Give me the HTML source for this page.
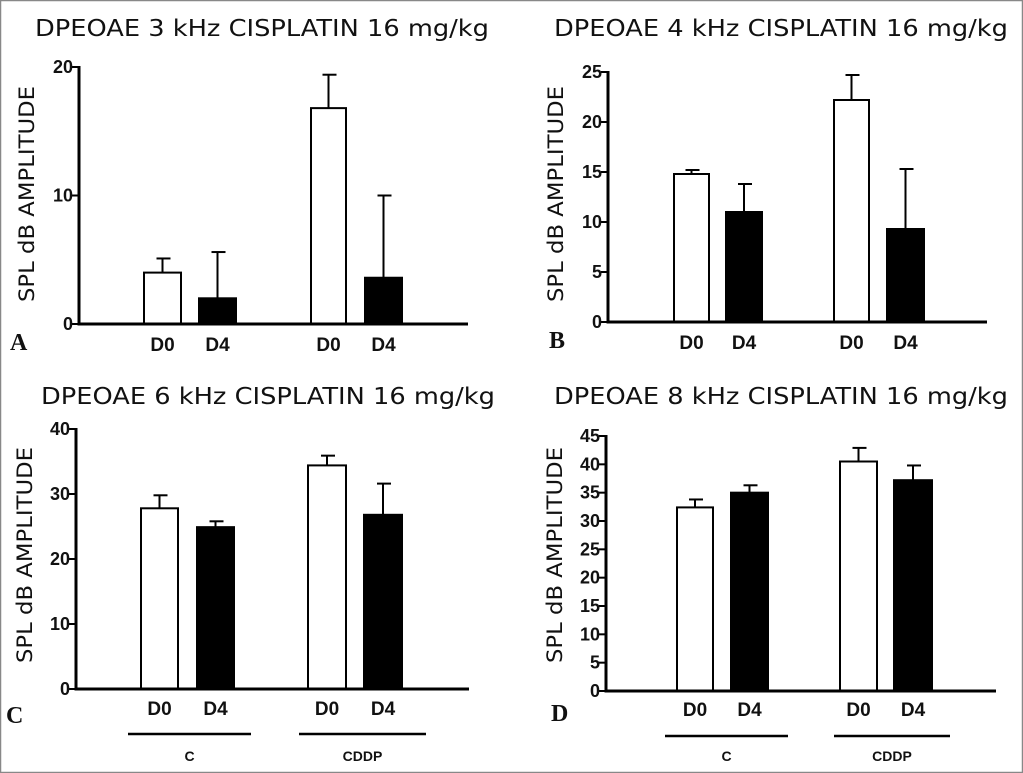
<!DOCTYPE html>
<html><head><meta charset="utf-8"><style>
html,body{margin:0;padding:0;background:#fff}
svg{display:block}
.t{font-family:"DejaVu Sans",sans-serif;font-size:23px;fill:#111}
.tick{font-family:"Liberation Sans",sans-serif;font-weight:bold;font-size:18px;fill:#111}
.cat{font-family:"Liberation Sans",sans-serif;font-weight:bold;font-size:19px;fill:#111}
.yt{font-family:"DejaVu Sans",sans-serif;font-size:21px;fill:#111}
.pl{font-family:"Liberation Serif",serif;font-weight:bold;font-size:24px;fill:#111}
.gl{font-family:"Liberation Sans",sans-serif;font-weight:bold;font-size:14px;fill:#111}
</style></head><body>
<svg id="fig" width="1023" height="773" viewBox="0 0 1023 773">
<rect x="0.5" y="0.5" width="1022" height="772" fill="#fff" stroke="#888" stroke-width="1.5"/>
</svg>
<script>
// Panel data
const categories = ["D0","D4","D0","D4"];
const groups = ["C","CDDP"];
const valuesA = [4.0, 2.0, 16.8, 3.6];
const errorsA = [1.1, 3.6, 2.6, 6.4];
const ticksA = [0, 10, 20];
const valuesB = [14.8, 11.0, 22.2, 9.3];
const errorsB = [0.4, 2.8, 2.5, 6.0];
const ticksB = [0, 5, 10, 15, 20, 25];
const valuesC = [27.8, 24.9, 34.4, 26.8];
const errorsC = [2.0, 0.9, 1.5, 4.8];
const ticksC = [0, 10, 20, 30, 40];
const valuesD = [32.4, 35.0, 40.5, 37.2];
const errorsD = [1.4, 1.3, 2.4, 2.6];
const ticksD = [0, 5, 10, 15, 20, 25, 30, 35, 40, 45];

const NS = "http://www.w3.org/2000/svg";
const svg = document.getElementById("fig");
function mk(tag, attrs, parent, text){
  const e = document.createElementNS(NS, tag);
  for (const k in attrs) e.setAttribute(k, attrs[k]);
  if (text !== undefined) e.textContent = text;
  (parent||svg).appendChild(e);
  return e;
}
const panels = [
 {id:"a", letter:"A", title:"DPEOAE 3 kHz CISPLATIN 16 mg/kg", tx:35, ty:36, ax:79, y0:324, yTop:67, xEnd:468,
  bars:[[144,181],[199,236],[311,346],[365,402]], vals:valuesA, errs:errorsA, ticks:ticksA, ytx:34, ytc:194, lx:10, ly:350, groupsLine:false, catY:351},
 {id:"b", letter:"B", title:"DPEOAE 4 kHz CISPLATIN 16 mg/kg", tx:554, ty:36, ax:608, y0:322, yTop:72, xEnd:987,
  bars:[[674,709],[726,762],[834,869],[887,924]], vals:valuesB, errs:errorsB, ticks:ticksB, ytx:563, ytc:194, lx:549, ly:348, groupsLine:false, catY:349},
 {id:"c", letter:"C", title:"DPEOAE 6 kHz CISPLATIN 16 mg/kg", tx:41, ty:404, ax:76, y0:689, yTop:429, xEnd:469,
  bars:[[141,178],[197,234],[308,346],[364,402]], vals:valuesC, errs:errorsC, ticks:ticksC, ytx:32, ytc:555, lx:6, ly:723, groupsLine:true, catY:715,
  gl:[[128,251],[299,426]], gly:734, gty:761},
 {id:"d", letter:"D", title:"DPEOAE 8 kHz CISPLATIN 16 mg/kg", tx:554, ty:404, ax:606, y0:691, yTop:436, xEnd:996,
  bars:[[677,713],[731,768],[840,877],[894,932]], vals:valuesD, errs:errorsD, ticks:ticksD, ytx:562, ytc:555, lx:551, ly:721, groupsLine:true, catY:716,
  gl:[[665,788],[834,950]], gly:736, gty:761}
];
panels.forEach(p=>{
  const g = mk("g",{});
  
  
  const tmax = p.ticks[p.ticks.length-1];
  const y = v => p.y0 - (v/tmax)*(p.y0-p.yTop);
  const t = mk("text",{x:p.tx, y:p.ty, class:"t", textLength:454, lengthAdjust:"spacingAndGlyphs"}, g, p.title);
  
  
  const yt = mk("text",{x:p.ytx, y:p.ytc, "text-anchor":"middle", class:"yt", textLength:216, lengthAdjust:"spacingAndGlyphs", transform:`rotate(-90 ${p.ytx} ${p.ytc})`}, g, "SPL dB AMPLITUDE");
  
  
  p.vals.forEach((v,i)=>{
    const [x1,x2] = p.bars[i];
    const filled = i%2===1;
    const cx=(x1+x2)/2;
    const top = y(v+p.errs[i]);
    const el = mk("line",{x1:cx,x2:cx,y1:y(v),y2:top,stroke:"#000","stroke-width":2}, g);
    
    
    const cap = mk("line",{x1:cx-6,x2:cx+8,y1:top,y2:top,stroke:"#000","stroke-width":2}, g);
    
    
    const r = mk("rect",{x:x1,y:y(v),width:x2-x1,height:p.y0-y(v),fill:filled?"#000":"#fff",stroke:"#000","stroke-width":2}, g);
    
    
    const cl = mk("text",{x:cx,y:p.catY,"text-anchor":"middle",class:"cat"}, g, categories[i]);
    
    
  });
  const ya = mk("line",{x1:p.ax,x2:p.ax,y1:p.yTop-1,y2:p.y0+1.5,stroke:"#000","stroke-width":3}, g);
  
  
  const xa = mk("line",{x1:p.ax-1.5,x2:p.xEnd,y1:p.y0,y2:p.y0,stroke:"#000","stroke-width":3}, g);
  
  
  p.ticks.forEach(tv=>{
    const tk = mk("line",{x1:p.ax-7,x2:p.ax,y1:y(tv),y2:y(tv),stroke:"#000","stroke-width":2}, g);
    
    
    const tl = mk("text",{x:p.ax-6,y:y(tv)+6,"text-anchor":"end",class:"tick"}, g, String(tv));
    
    
  });
  const pl = mk("text",{x:p.lx,y:p.ly,class:"pl"}, g, p.letter);
  
  
  if (p.groupsLine){
    p.gl.forEach((s,k)=>{
      const l = mk("line",{x1:s[0],x2:s[1],y1:p.gly,y2:p.gly,stroke:"#000","stroke-width":2.5}, g);
      
      
      const gt = mk("text",{x:(s[0]+s[1])/2,y:p.gty,"text-anchor":"middle",class:"gl"}, g, groups[k]);
      
      
    });
  }
});
</script>
</body></html>
